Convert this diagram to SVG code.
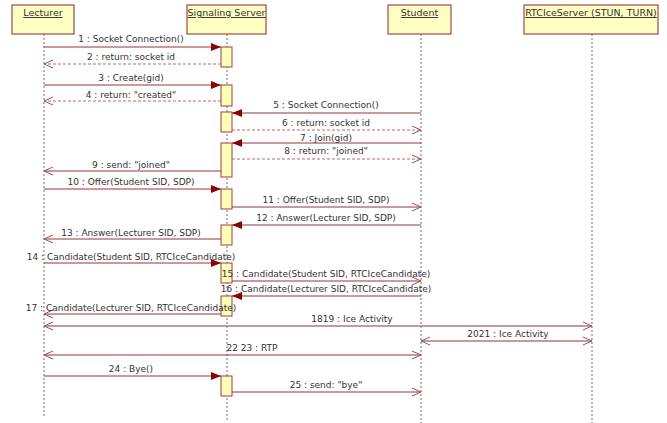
<svg xmlns="http://www.w3.org/2000/svg" width="667" height="423" viewBox="0 0 667 423">
<style>
.hdr{fill:#ffffc4;stroke:#a04848;stroke-width:1.2}
.ht{font-family:"DejaVu Sans",sans-serif;font-size:9.5px;fill:#333;text-anchor:middle;text-decoration:underline}
.life{stroke:#707070;stroke-width:1;stroke-dasharray:2,2}
.act{fill:#ffffb8;stroke:#a03c3c;stroke-width:1}
.m{stroke:#9a3434;stroke-width:1;fill:none}
.r{stroke:#b86a6a;stroke-width:1;fill:none;stroke-dasharray:3,2}
.b{stroke:#b07878;stroke-width:1.3;fill:none}
.lb{font-family:"DejaVu Sans",sans-serif;font-size:9px;fill:#333;text-anchor:middle}
</style>
<defs>
<marker id="fa" markerUnits="userSpaceOnUse" markerWidth="12" markerHeight="10" refX="11" refY="5" orient="auto">
<path d="M1,1 L11,5 L1,9 Z" fill="#8b0000"/>
</marker>
<marker id="oa" markerUnits="userSpaceOnUse" markerWidth="12" markerHeight="10" refX="11" refY="5" orient="auto-start-reverse">
<path d="M2,1 L11,5 L2,9" fill="none" stroke="#a05050" stroke-width="1"/>
</marker>
</defs>
<rect width="667" height="423" fill="#fff"/>
<g id="lecturer">
<rect class="hdr" x="12" y="5" width="62" height="29"/>
<text class="ht" x="43" y="16">Lecturer</text>
<line class="life" x1="44" y1="34" x2="44" y2="416"/>
</g>
<g id="signaling-server">
<rect class="hdr" x="187" y="5" width="79" height="29"/>
<text class="ht" x="226.5" y="16">Signaling Server</text>
<line class="life" x1="227" y1="34" x2="227" y2="422"/>
<rect class="act" x="221" y="47" width="11" height="20"/>
<rect class="act" x="221" y="85" width="11" height="21"/>
<rect class="act" x="221" y="112" width="11" height="20"/>
<rect class="act" x="221" y="143" width="11" height="34"/>
<rect class="act" x="221" y="189" width="11" height="20"/>
<rect class="act" x="221" y="225" width="11" height="20"/>
<rect class="act" x="221" y="263" width="11" height="20"/>
<rect class="act" x="221" y="296" width="11" height="20"/>
<rect class="act" x="221" y="376" width="11" height="20"/>
</g>
<g id="student">
<rect class="hdr" x="388" y="5" width="63" height="29"/>
<text class="ht" x="419.5" y="16">Student</text>
<line class="life" x1="421" y1="34" x2="421" y2="423"/>
</g>
<g id="rtciceserver">
<rect class="hdr" x="524" y="5" width="134" height="29"/>
<text class="ht" x="591" y="16">RTCIceServer (STUN, TURN)</text>
<line class="life" x1="592" y1="34" x2="592" y2="423"/>
</g>
<g id="connectors">
<line class="m" x1="44" y1="47" x2="221" y2="47" marker-end="url(#fa)"/>
<text class="lb" x="131" y="42">1 : Socket Connection()</text>
<line class="r" x1="221" y1="64" x2="44" y2="64" marker-end="url(#oa)"/>
<text class="lb" x="131" y="60">2 : return: socket id</text>
<line class="m" x1="44" y1="85" x2="221" y2="85" marker-end="url(#fa)"/>
<text class="lb" x="131" y="81">3 : Create(gid)</text>
<line class="r" x1="221" y1="101" x2="44" y2="101" marker-end="url(#oa)"/>
<text class="lb" x="131" y="98">4 : return: "created"</text>
<line class="m" x1="421" y1="113" x2="232" y2="113" marker-end="url(#fa)"/>
<text class="lb" x="326" y="108">5 : Socket Connection()</text>
<line class="r" x1="232" y1="130" x2="421" y2="130" marker-end="url(#oa)"/>
<text class="lb" x="326" y="126">6 : return: socket id</text>
<line class="m" x1="421" y1="143" x2="232" y2="143" marker-end="url(#fa)"/>
<text class="lb" x="326" y="141">7 : Join(gid)</text>
<line class="r" x1="232" y1="159" x2="421" y2="159" marker-end="url(#oa)"/>
<text class="lb" x="326" y="154">8 : return: "joined"</text>
<line class="m" x1="221" y1="171" x2="44" y2="171" marker-end="url(#oa)"/>
<text class="lb" x="131" y="168">9 : send: "joined"</text>
<line class="m" x1="44" y1="189" x2="221" y2="189" marker-end="url(#fa)"/>
<text class="lb" x="131" y="185">10 : Offer(Student SID, SDP)</text>
<line class="m" x1="232" y1="207" x2="421" y2="207" marker-end="url(#oa)"/>
<text class="lb" x="326" y="203">11 : Offer(Student SID, SDP)</text>
<line class="m" x1="421" y1="225" x2="232" y2="225" marker-end="url(#fa)"/>
<text class="lb" x="326" y="221">12 : Answer(Lecturer SID, SDP)</text>
<line class="m" x1="221" y1="239" x2="44" y2="239" marker-end="url(#oa)"/>
<text class="lb" x="131" y="236">13 : Answer(Lecturer SID, SDP)</text>
<line class="m" x1="44" y1="263" x2="221" y2="263" marker-end="url(#fa)"/>
<text class="lb" x="131" y="260">14 : Candidate(Student SID, RTCIceCandidate)</text>
<line class="m" x1="232" y1="281" x2="421" y2="281" marker-end="url(#oa)"/>
<text class="lb" x="326" y="277">15 : Candidate(Student SID, RTCIceCandidate)</text>
<line class="m" x1="421" y1="296" x2="232" y2="296" marker-end="url(#fa)"/>
<text class="lb" x="326" y="292">16 : Candidate(Lecturer SID, RTCIceCandidate)</text>
<line class="m" x1="221" y1="314" x2="44" y2="314" marker-end="url(#oa)"/>
<text class="lb" x="131" y="311">17 : Candidate(Lecturer SID, RTCIceCandidate)</text>
<line class="b" x1="44" y1="326" x2="592" y2="326" marker-start="url(#oa)" marker-end="url(#oa)"/>
<text class="lb" x="352" y="322">1819 : Ice Activity</text>
<line class="b" x1="421" y1="341" x2="592" y2="341" marker-start="url(#oa)" marker-end="url(#oa)"/>
<text class="lb" x="508" y="337">2021 : Ice Activity</text>
<line class="m" x1="44" y1="355" x2="421" y2="355" marker-start="url(#oa)" marker-end="url(#oa)"/>
<text class="lb" x="252" y="351">22 23 : RTP</text>
<line class="m" x1="44" y1="376" x2="221" y2="376" marker-end="url(#fa)"/>
<text class="lb" x="131" y="372">24 : Bye()</text>
<line class="m" x1="232" y1="392" x2="421" y2="392" marker-end="url(#oa)"/>
<text class="lb" x="326" y="388">25 : send: "bye"</text>
</g>
</svg>
